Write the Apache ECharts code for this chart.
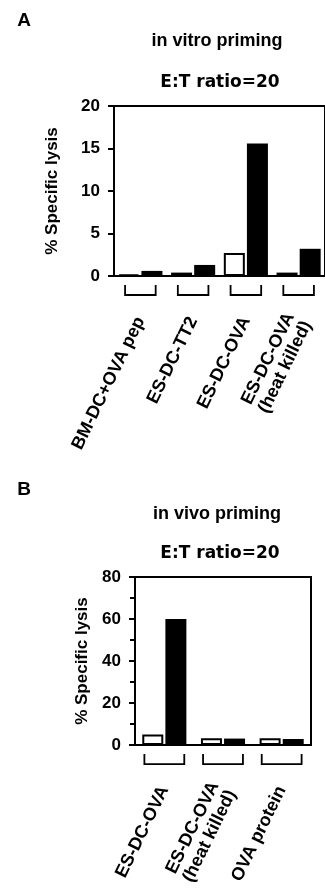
<!DOCTYPE html>
<html>
<head>
<meta charset="utf-8">
<script src="https://cdn.jsdelivr.net/npm/echarts@6/dist/echarts.min.js"></script>
<style>
html,body{margin:0;padding:0;background:#fff;}
#c{width:325px;height:888px;}
</style>
</head>
<body>
<div id="c"></div>
<script>
// ---- data ----
const catsA = ['BM-DC+OVA pep', 'ES-DC-TT2', 'ES-DC-OVA', 'ES-DC-OVA\n(heat killed)'];
const openA = [0.2, 0.4, 2.7, 0.4];
const filledA = [0.6, 1.3, 15.6, 3.2];
const catsB = ['ES-DC-OVA', 'ES-DC-OVA\n(heat killed)', 'OVA protein'];
const openB = [5.0, 3.3, 3.3];
const filledB = [60, 3.1, 2.9];
const yMaxA = 20, yStepA = 5;
const yMaxB = 80, yStepB = 20;
const yName = '% Specific lysis';

const FONT = '"Liberation Sans", Arial, sans-serif';
const chart = echarts.init(document.getElementById('c'), null, {renderer: 'canvas'});

function bracketSeries(xi, yi, cats, frac) {
  return {
    type: 'custom', xAxisIndex: xi, yAxisIndex: yi, clip: false, silent: true,
    data: cats.map((c, i) => [i]),
    encode: {x: 0},
    renderItem: function (params, api) {
      const c = api.coord([api.value(0), 0]);
      const w = api.size([1, 0])[0];
      const h = w * frac;
      const y0 = c[1] + 9, y1 = c[1] + 19;
      return {
        type: 'polyline',
        shape: {points: [[c[0] - h, y0], [c[0] - h, y1], [c[0] + h, y1], [c[0] + h, y0]]},
        style: {stroke: '#000', lineWidth: 1.8, fill: null}
      };
    }
  };
}

function xAx(gi, cats) {
  return {
    type: 'category', gridIndex: gi, data: cats,
    axisLine: {lineStyle: {color: '#000', width: 2}},
    axisTick: {show: false},
    axisLabel: {interval: 0, rotate: 64, margin: 42, color: '#000',
      fontFamily: FONT, fontWeight: 'bold', fontSize: 18, lineHeight: 19}
  };
}
function yAx(gi, max, step, gap, minor) {
  return {
    type: 'value', gridIndex: gi, min: 0, max: max, interval: step,
    name: yName, nameLocation: 'middle', nameGap: gap,
    nameTextStyle: {color: '#000', fontFamily: FONT, fontWeight: 'bold', fontSize: 17},
    axisLine: {show: true, lineStyle: {color: '#000', width: 2}},
    axisTick: {show: true, length: 6, lineStyle: {color: '#000', width: 2}},
    minorTick: {show: minor, splitNumber: 2, length: 5, lineStyle: {color: '#000', width: 2}},
    splitLine: {show: false},
    axisLabel: {margin: 14, color: '#000', fontFamily: FONT, fontWeight: 'bold', fontSize: 17}
  };
}
function bars(xi, yi, vals, fill) {
  return {
    type: 'bar', xAxisIndex: xi, yAxisIndex: yi, data: vals,
    barWidth: 21, barGap: '10%',
    itemStyle: fill ? {color: '#000'} : {color: '#fff', borderColor: '#000', borderWidth: 2}
  };
}
function txt(s, x, y, size, family, weight) {
  return {type: 'text', x: x, y: y, style: {text: s, textAlign: 'center', textVerticalAlign: 'middle',
    font: weight + ' ' + size + 'px ' + family, fill: '#000'}};
}

chart.setOption({
  animation: false,
  backgroundColor: '#fff',
  grid: [
    {left: 114, top: 106, width: 213, height: 170, show: true, borderColor: '#000', borderWidth: 2, backgroundColor: 'transparent'},
    {left: 135, top: 577, width: 176, height: 171, show: true, borderColor: '#000', borderWidth: 2, backgroundColor: 'transparent'}
  ],
  xAxis: [xAx(0, catsA), xAx(1, catsB)],
  yAxis: [yAx(0, yMaxA, yStepA, 53, false), yAx(1, yMaxB, yStepB, 44, true)],
  series: [
    bars(0, 0, openA, false), bars(0, 0, filledA, true), bracketSeries(0, 0, catsA, 0.29),
    bars(1, 1, openB, false), bars(1, 1, filledB, true), bracketSeries(1, 1, catsB, 0.34)
  ],
  graphic: [
    txt('A', 24, 21, 19, FONT, 'bold'),
    txt('in vitro priming', 217, 41, 18, FONT, 'bold'),
    txt('E:T ratio=20', 220, 83, 17, '"DejaVu Sans"', 'bold'),
    txt('B', 24, 490, 19, FONT, 'bold'),
    txt('in vivo priming', 217, 514, 18, FONT, 'bold'),
    txt('E:T ratio=20', 220, 554, 17, '"DejaVu Sans"', 'bold')
  ]
});
</script>
</body>
</html>
